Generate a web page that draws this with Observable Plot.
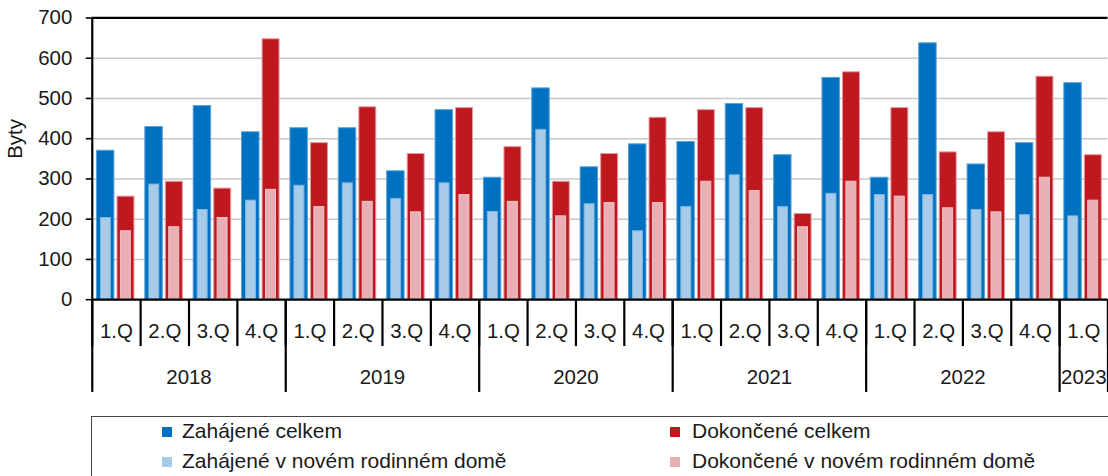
<!DOCTYPE html>
<html>
<head>
<meta charset="utf-8">
<script src="https://cdn.jsdelivr.net/npm/d3@7"></script>
<script src="https://cdn.jsdelivr.net/npm/@observablehq/plot@0.6"></script>
<style>
  html, body { margin: 0; padding: 0; background: #fff; overflow: hidden; }
  body { width: 1108px; height: 476px; font-family: "Liberation Sans", Arial, sans-serif; color: #1a1a1a; }
  #legend { position: relative; width: 1108px; height: 64px; font-size: 21px; }
  #legend .box { position: absolute; left: 91px; top: 5px; width: 1100px; height: 90px; border: 1px solid #444; box-sizing: border-box; }
  #legend .sw { position: absolute; width: 10px; height: 10px; }
  #legend .lb { position: absolute; line-height: 21px; white-space: nowrap; }
</style>
</head>
<body>
<div id="chart"></div>
<div id="legend"></div>
<script>
// ---- data ----
const quarterLabels = ["1.Q","2.Q","3.Q","4.Q","1.Q","2.Q","3.Q","4.Q","1.Q","2.Q","3.Q","4.Q","1.Q","2.Q","3.Q","4.Q","1.Q","2.Q","3.Q","4.Q","1.Q"];
const quarterYears = ["2018","2018","2018","2018","2019","2019","2019","2019","2020","2020","2020","2020","2021","2021","2021","2021","2022","2022","2022","2022","2023"];
const years = ["2018","2019","2020","2021","2022","2023"];
const zahajeneCelkem  = [370, 429, 481, 416, 426, 426, 319, 471, 303, 525, 329, 386, 392, 486, 359, 551, 303, 637, 336, 389, 538];
const zahajeneRD      = [203, 286, 223, 246, 283, 289, 250, 289, 218, 422, 237, 170, 230, 309, 230, 263, 260, 260, 223, 210, 207];
const dokonceneCelkem = [256, 293, 276, 647, 389, 478, 362, 476, 379, 293, 362, 452, 471, 476, 213, 565, 476, 366, 416, 554, 359];
const dokonceneRD     = [170, 180, 203, 273, 230, 243, 217, 260, 243, 207, 240, 240, 293, 270, 180, 293, 256, 227, 217, 303, 246];
const yTicks = [0, 100, 200, 300, 400, 500, 600, 700];
const yLabel = "Byty";
const seriesNames = ["Zahájené celkem", "Zahájené v novém rodinném domě", "Dokončené celkem", "Dokončené v novém rodinném domě"];
const seriesColors = ["#0070c0", "#a7cbe8", "#c0181f", "#e8b0b5"];

// ---- derived tables ----
const n = quarterLabels.length;
const rows = quarterLabels.map((q, i) => ({
  i, q, year: quarterYears[i],
  zc: zahajeneCelkem[i], zr: zahajeneRD[i], dc: dokonceneCelkem[i], dr: dokonceneRD[i]
}));
const yearInfo = years.map(y => {
  const idx = rows.filter(r => r.year === y).map(r => r.i);
  return { year: y, start: d3.min(idx), end: d3.max(idx) + 1 };
});
const quarterBounds = d3.range(0, n + 1);
const yearBounds = [...yearInfo.map(d => d.start), n];
const yearCenters = yearInfo.map(d => (d.start + d.end) / 2);
const quarterCenters = rows.map(r => r.i + 0.5);

const FS = 20.5;
const chart = Plot.plot({
  width: 1111,
  height: 412,
  marginLeft: 92,
  marginRight: 0.5,
  marginTop: 17.5,
  marginBottom: 112,
  style: { fontFamily: '"Liberation Sans", Arial, sans-serif', fontSize: FS + "px", color: "#1a1a1a", background: "#fff", overflow: "visible" },
  x: { domain: [0, n] },
  y: { domain: [0, 700] },
  marks: [
    Plot.ruleY(yTicks.filter(v => v > 0 && v < 700), { stroke: "#c8c8c8", strokeWidth: 1.4 }),
    Plot.rectY(rows, { x1: "i", x2: d => d.i + 1, y: "zc", insetLeft: 4.7, insetRight: 26.3, fill: seriesColors[0], stroke: "#5aa2da", strokeWidth: 1 }),
    Plot.rectY(rows, { x1: "i", x2: d => d.i + 1, y: "zr", insetLeft: 8.7, insetRight: 29.8, fill: seriesColors[1], stroke: "#7fb6e2", strokeWidth: 1 }),
    Plot.rectY(rows, { x1: "i", x2: d => d.i + 1, y: "dc", insetLeft: 25.3, insetRight: 6.2, fill: seriesColors[2], stroke: "#e49aa0", strokeWidth: 1 }),
    Plot.rectY(rows, { x1: "i", x2: d => d.i + 1, y: "dr", insetLeft: 28.7, insetRight: 9.8, fill: seriesColors[3], stroke: "#eec4c7", strokeWidth: 1 }),
    Plot.ruleY([700], { stroke: "#000", strokeWidth: 2.2 }),
    Plot.ruleY([0], { stroke: "#000", strokeWidth: 2.2 }),
    Plot.ruleX([0], { stroke: "#000", strokeWidth: 2.2 }),
    Plot.axisY({ ticks: yTicks, tickSize: 6, tickPadding: 14, stroke: "#000", strokeWidth: 1.6, label: null, fontSize: FS }),
    Plot.axisX({ ticks: quarterBounds, tickSize: 47, tickFormat: () => "", stroke: "#000", strokeWidth: 2.2, label: null }),
    Plot.axisX({ ticks: yearBounds, tickSize: 93, tickFormat: () => "", stroke: "#000", strokeWidth: 2.2, label: null }),
    Plot.axisX({ ticks: quarterCenters, tickSize: 0, tickPadding: 24, tickFormat: d => quarterLabels[Math.floor(d)], label: null, fontSize: FS }),
    Plot.axisX({ ticks: yearCenters, tickSize: 0, tickPadding: 70, tickFormat: d => yearInfo[yearCenters.indexOf(d)].year, label: null, fontSize: FS }),
    Plot.text([yLabel], { frameAnchor: "left", rotate: -90, dx: -77, fontSize: FS, fill: "#1a1a1a" })
  ]
});
document.getElementById("chart").appendChild(chart);

// ---- legend ----
const legend = document.getElementById("legend");
legend.innerHTML = '<div class="box"></div>';
const pos = [
  { sx: 162, tx: 182, sy: 16, ty: 9 },
  { sx: 162, tx: 182, sy: 46, ty: 39 },
  { sx: 670, tx: 692, sy: 16, ty: 9 },
  { sx: 670, tx: 692, sy: 46, ty: 39 }
];
seriesNames.forEach((name, k) => {
  const p = pos[k];
  const sw = document.createElement("div");
  sw.className = "sw";
  sw.style.left = p.sx + "px"; sw.style.top = p.sy + "px"; sw.style.background = seriesColors[k];
  legend.appendChild(sw);
  const lb = document.createElement("div");
  lb.className = "lb";
  lb.style.left = p.tx + "px"; lb.style.top = p.ty + "px";
  lb.textContent = name;
  legend.appendChild(lb);
});
</script>
</body>
</html>
